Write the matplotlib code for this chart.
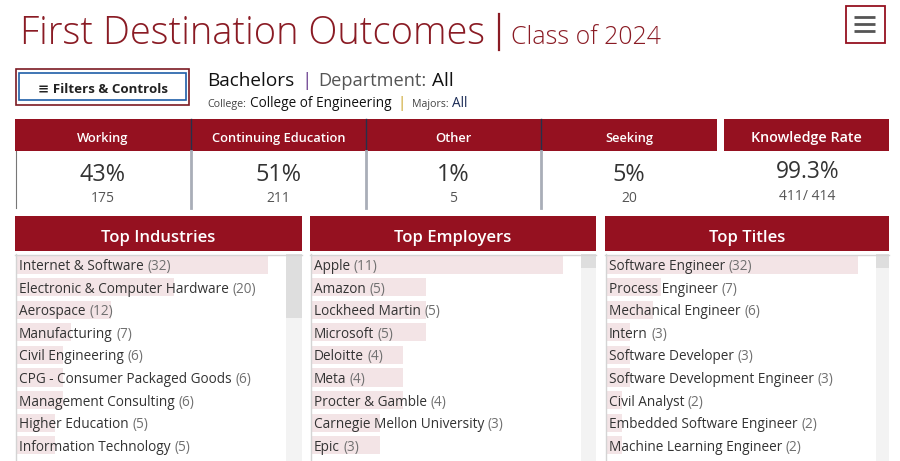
import matplotlib
matplotlib.use("Agg")
import matplotlib.pyplot as plt
from matplotlib.patches import Rectangle

# ---------------- data ----------------
title_main = "First Destination Outcomes"
title_sub = "Class of 2024"
degree = "Bachelors"
department = "All"
college = "College of Engineering"
majors = "All"

kpi_labels = ["Working", "Continuing Education", "Other", "Seeking"]
kpi_pcts = [43, 51, 1, 5]
kpi_counts = [175, 211, 5, 20]
knowledge_rate = 99.3
known = 411
total = 414

industries = ["Internet & Software", "Electronic & Computer Hardware", "Aerospace",
              "Manufacturing", "Civil Engineering", "CPG - Consumer Packaged Goods",
              "Management Consulting", "Higher Education", "Information Technology"]
industry_counts = [32, 20, 12, 7, 6, 6, 6, 5, 5]

employers = ["Apple", "Amazon", "Lockheed Martin", "Microsoft", "Deloitte", "Meta",
             "Procter & Gamble", "Carnegie Mellon University", "Epic"]
employer_counts = [11, 5, 5, 5, 4, 4, 4, 3, 3]

titles = ["Software Engineer", "Process Engineer", "Mechanical Engineer", "Intern",
          "Software Developer", "Software Development Engineer", "Civil Analyst",
          "Embedded Software Engineer", "Machine Learning Engineer"]
title_counts = [32, 7, 6, 3, 3, 3, 2, 2, 2]

# ---------------- style ----------------
RED = "#951120"
TITLE_RED = "#8a1b24"
PINK = "#f3e4e6"
DARK = "#333333"
GREY = "#707070"
FONT = "Open Sans"

W, H = 900, 461
fig = plt.figure(figsize=(W / 100, H / 100), dpi=100)
ax = fig.add_axes([0, 0, 1, 1])
ax.set_xlim(0, W)
ax.set_ylim(H, 0)
ax.axis("off")
ax.set_zorder(3)
ax.patch.set_visible(False)
renderer = fig.canvas.get_renderer()


def measure(s, **kw):
    t = ax.text(0, 0, s, **kw)
    w = t.get_window_extent(renderer).width
    t.remove()
    return w


def fit(s, target, **kw):
    return 10 * target / measure(s, fontsize=10, **kw)


def rect(x, y, w, h, **kw):
    ax.add_patch(Rectangle((x, y), w, h, **kw))


# ---------------- title ----------------
fs = fit(title_main, 463, family=FONT, weight="light")
ax.text(20, 44, title_main, fontsize=fs, family=FONT, weight="light", color=TITLE_RED, va="baseline")
ax.plot([499, 499], [14, 50], color=TITLE_RED, lw=1.6)
fs = fit(title_sub, 150, family=FONT, weight="light")
ax.text(511, 44, title_sub, fontsize=fs, family=FONT, weight="light", color=TITLE_RED, va="baseline")

# hamburger button
rect(845.5, 6.5, 39, 37, fill=False, edgecolor=RED, lw=1.3)
for yy in (17, 24, 31):
    ax.plot([854, 875], [yy, yy], color="#555555", lw=2, solid_capstyle="butt")

# filters button
rect(15.5, 69.5, 173, 36, fill=False, edgecolor="#7c1a22", lw=1.2)
rect(18.5, 73.5, 167, 27, fill=False, edgecolor="#1f5fa8", lw=1.2)
fs = fit("Filters & Controls", 116, family=FONT, weight="bold")
ax.text(103, 93, "\u2261 Filters & Controls", fontsize=fs, family=[FONT, "DejaVu Sans"],
        weight="bold", color="#222222", ha="center", va="baseline")

# subtitle lines
def seq(x, y, parts):
    for s, kw, gap in parts:
        ax.text(x, y, s, va="baseline", family=FONT, **kw)
        x += measure(s, family=FONT, **kw) + gap
    return x

fs1 = fit(degree, 87, family=FONT)
seq(207, 86, [(degree, dict(fontsize=fs1, color="#111111"), 7),
              ("|", dict(fontsize=fs1, color="#6a3d8f"), 7),
              ("Department:", dict(fontsize=fs1 * 0.96, color="#555555"), 5),
              (department, dict(fontsize=fs1, color="#111111"), 0)])
fs2 = fit(college, 141, family=FONT)
fs3 = fs2 * 0.78
seq(207, 107, [("College:", dict(fontsize=fs3, color="#444444"), 4),
               (college, dict(fontsize=fs2, color="#111111"), 6),
               ("|", dict(fontsize=fs2 * 1.1, color="#c9a020"), 6),
               ("Majors:", dict(fontsize=fs3, color="#444444"), 4),
               (majors, dict(fontsize=fs2, color="#1a2a55"), 0)])

# ---------------- KPI strip ----------------
kx = [15, 191, 366, 541, 717]
rect(15, 119, 702, 32, facecolor=RED, edgecolor="none")
rect(724, 119, 165, 32, facecolor=RED, edgecolor="none")
ax.plot([15.5, 15.5], [151, 208], color="#777777", lw=0.8)
fsh = fit("Continuing Education", 134, family=FONT, weight="semibold")
fsp = fit("43%", 46, family=FONT)
fsc = fit("175", 24, family=FONT)
for i, lab in enumerate(kpi_labels):
    cx = (kx[i] + kx[i + 1]) / 2
    ax.text(cx, 141.5, lab, fontsize=fsh, family=FONT, weight="semibold", color="white",
            ha="center", va="baseline")
    ax.text(cx, 181, f"{kpi_pcts[i]}%", fontsize=fsp, family=FONT, color=DARK,
            ha="center", va="baseline")
    ax.text(cx, 202, f"{kpi_counts[i]}", fontsize=fsc, family=FONT, color="#555555",
            ha="center", va="baseline")
    if i > 0:
        ax.plot([kx[i], kx[i]], [119, 151], color="#26304a", lw=1)
        ax.plot([kx[i], kx[i]], [151.5, 207.5], color="#a9aeb8", lw=2)

fsk = fit("Knowledge Rate", 110, family=FONT, weight="semibold")
ax.text(806, 141.5, "Knowledge Rate", fontsize=fsk, family=FONT, weight="semibold",
        color="white", ha="center", va="baseline")
fsk2 = fit(f"{knowledge_rate}%", 64, family=FONT)
ax.text(808, 178, f"{knowledge_rate}%", fontsize=fsk2, family=FONT, color=DARK,
        ha="center", va="baseline")
ax.text(807, 200, f"{known}/ {total}", fontsize=fsc, family=FONT, color="#555555",
        ha="center", va="baseline")

# ---------------- list panels ----------------
panels = [
    ("Top Industries", industries, industry_counts, 15, 302, 64),
    ("Top Employers", employers, employer_counts, 310, 596, 14),
    ("Top Titles", titles, title_counts, 605, 889, 14),
]
ROW0, ROWH, TOP = 264.5, 22.6, 254
fst = fit("Top Industries", 114, family=FONT, weight="semibold")
fsr = fit("Internet & Software (32)", 152, family=FONT)

for name, labels, vals, x0, x1, thumb in panels:
    rect(x0, 216, x1 - x0, 35, facecolor=RED, edgecolor="none")
    ax.text((x0 + x1) / 2, 241.5, name, fontsize=fst, family=FONT, weight="semibold",
            color="white", ha="center", va="baseline")
    list_x = x0 + 1
    list_w = 270
    sb_x = list_x + list_w
    # scrollbar
    rect(sb_x, TOP, x1 - sb_x, H - TOP, facecolor="#f3f3f3", edgecolor="none")
    rect(sb_x, TOP, x1 - sb_x, thumb, facecolor="#dedede", edgecolor="none")
    ax.plot([x0, x1], [TOP + 0.5, TOP + 0.5], color="#d4d4d4", lw=1)
    ax.plot([x0 + 0.5, x0 + 0.5], [TOP, H], color="#d4d4d4", lw=1)

    # bars through their own axes
    pax = fig.add_axes([list_x / W, 0, list_w / W, (H - TOP) / H])
    pax.set_zorder(1)
    pax.set_xlim(0, max(vals) * 1.07)
    pax.set_ylim((H - ROW0) / ROWH, -(ROW0 - TOP) / ROWH)
    pax.barh(range(len(vals)), vals, height=0.8, color=PINK, edgecolor="none")
    pax.axis("off")
    pax.patch.set_alpha(0)

    for i, (lab, v) in enumerate(zip(labels, vals)):
        y = ROW0 + i * ROWH + 5.5
        tx = list_x + 3
        ax.text(tx, y, lab, fontsize=fsr, family=FONT, color=DARK, va="baseline")
        w = measure(lab + " (", fontsize=fsr, family=FONT) - measure("(", fontsize=fsr, family=FONT)
        ax.text(tx + w, y, f"({v})", fontsize=fsr, family=FONT, color=GREY, va="baseline")

fig.savefig("out.png", dpi=100)
